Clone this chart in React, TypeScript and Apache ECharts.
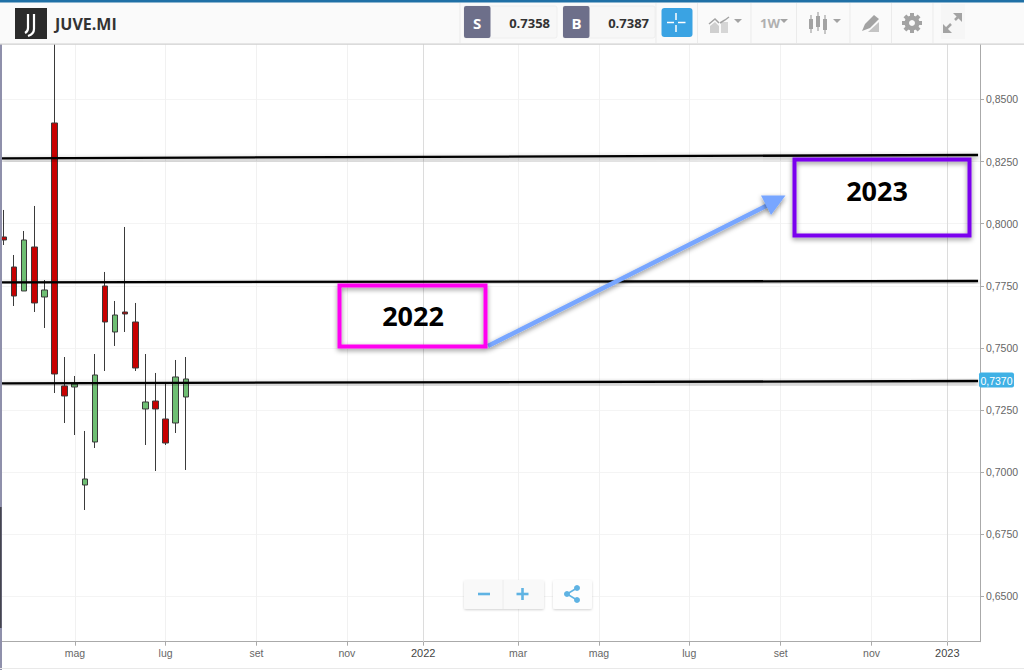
import React, { useEffect, useRef } from "react";
import * as echarts from "echarts";

const weekIndex = [0, 1, 2, 3, 4, 5, 6, 7, 8, 9, 10, 11, 12, 13, 14, 15, 16, 17, 18];
const opens = [0.79465, 0.78257, 0.77291, 0.79062, 0.77049, 0.84054, 0.73466, 0.73426, 0.6948, 0.71212, 0.77492, 0.7564, 0.76445, 0.76043, 0.7254, 0.72862, 0.72138, 0.71976, 0.73023];
const closes = [0.79344, 0.77089, 0.79344, 0.76808, 0.77331, 0.73949, 0.73064, 0.73547, 0.69722, 0.73909, 0.76043, 0.76324, 0.76365, 0.74191, 0.72822, 0.7254, 0.71171, 0.73829, 0.73748];
const lows = [0.79142, 0.76687, 0.77291, 0.76445, 0.75801, 0.73184, 0.71976, 0.71493, 0.68474, 0.7097, 0.7407, 0.75077, 0.7564, 0.7407, 0.71091, 0.70044, 0.71091, 0.71574, 0.70085];
const highs = [0.80552, 0.7874, 0.79706, 0.80713, 0.77733, 0.8723, 0.74633, 0.73869, 0.71655, 0.74754, 0.78056, 0.76888, 0.79867, 0.76808, 0.74754, 0.7399, 0.73587, 0.74513, 0.74633];

const tickPositions = [7.03, 16, 25, 33.95, 41.5, 50.9, 58.9, 67.85, 76.9, 85.9, 93.4];
const tickLabels = ["mag", "lug", "set", "nov", "2022", "mar", "mag", "lug", "set", "nov", "2023"];
const yearTicks = [41.5, 93.4];
const priceTicks = [0.65, 0.675, 0.7, 0.725, 0.75, 0.775, 0.8, 0.825, 0.85];

const levelXs = [-0.2, 96.44];
const levelA = [0.82633, 0.82766];
const levelB = [0.77641, 0.77693];
const levelC = [0.73575, 0.73667];

const ASK = "0.7358";
const BID = "0.7387";
const LAST = "0,7370";

echarts.graphic.registerShape(
  "juveLogo",
  echarts.graphic.extendPath("M28 14 L28 28 C28 31 27 32 25 33 M34 14 L34 29 C34 33 31 35 28 36", {})
);
echarts.graphic.registerShape(
  "shareIcon",
  echarts.graphic.extendPath("M577 588 L567 594 L577 600", {})
);

const FONT = "'Open Sans', sans-serif";
const AXIS_FONT = "'Liberation Sans', Arial, sans-serif";
const ICON = "#a3a3a3";
const BLUE = "#5fb3e3";

const rect = (x: number, y: number, w: number, h: number, fill: string, extra: any = {}) => ({
  type: "rect",
  z: 20,
  shape: { x, y, width: w, height: h, r: extra.r ?? 0 },
  style: { fill, stroke: extra.stroke, lineWidth: extra.lineWidth ?? 0, shadowBlur: extra.shadowBlur, shadowColor: extra.shadowColor, shadowOffsetY: extra.shadowOffsetY },
  silent: true,
});
const line = (x1: number, y1: number, x2: number, y2: number, stroke: string, lineWidth = 1, extra: any = {}) => ({
  type: "line",
  z: 21,
  shape: { x1, y1, x2, y2 },
  style: { stroke, lineWidth, ...extra },
  silent: true,
});
const text = (x: number, y: number, t: string, fill: string, font: string, align = "center") => ({
  type: "text",
  z: 22,
  x,
  y,
  style: { text: t, fill, font, textAlign: align, textVerticalAlign: "middle" },
  silent: true,
});
const tri = (x: number, y: number) => ({
  type: "polygon",
  z: 21,
  shape: { points: [[x - 4, y], [x + 4, y], [x, y + 4]] },
  style: { fill: ICON },
  silent: true,
});

const gearTeeth = [0, 1, 2, 3, 4, 5, 6, 7].map((i) => ({
  type: "rect",
  z: 21,
  x: 912,
  y: 23,
  rotation: (i * Math.PI) / 4,
  shape: { x: -2, y: -10, width: 4, height: 5 },
  style: { fill: ICON },
  silent: true,
}));

const shadow = { shadowBlur: 5, shadowColor: "rgba(0,0,0,0.45)", shadowOffsetY: 2 };

const header = [
  rect(0, 0, 1024, 44, "#fafafa"),
  rect(0, 0, 1024, 2.5, "#1f70a6"),
  rect(0, 43.5, 1024, 1.2, "#cfcfcf"),
  rect(15, 8, 32, 31, "#2b2b2b"),
  { type: "juveLogo", z: 21, style: { stroke: "#ffffff", fill: "none", lineWidth: 2.2 }, silent: true },
  text(55, 23.5, "JUVE.MI", "#333333", `700 16px ${FONT}`, "left"),
  ...[460, 656, 697.5, 751, 796.5, 850, 891.5, 933].map((x) => line(x, 3, x, 43, "#ebebeb")),
  rect(464, 6, 93, 32, "#f7f7f7", { r: 2, stroke: "#eeeeee", lineWidth: 1 }),
  rect(464, 6, 26.5, 32, "#6d6f8a", { r: 2 }),
  text(477, 23, "S", "#ffffff", `700 15px ${FONT}`),
  text(550, 23, ASK, "#333333", `700 13px ${FONT}`, "right"),
  rect(563, 6, 92, 32, "#f7f7f7", { r: 2, stroke: "#eeeeee", lineWidth: 1 }),
  rect(563, 6, 26.5, 32, "#6d6f8a", { r: 2 }),
  text(576.5, 23, "B", "#ffffff", `700 15px ${FONT}`),
  text(649, 23, BID, "#333333", `700 13px ${FONT}`, "right"),
  rect(661.5, 8, 31, 29, "#3aa3e3", { r: 3 }),
  line(667, 22.5, 674, 22.5, "#ffffff", 1.5),
  line(678, 22.5, 685.5, 22.5, "#ffffff", 1.5),
  line(676, 13, 676, 20, "#ffffff", 1.5),
  line(676, 25, 676, 32, "#ffffff", 1.5),
  { type: "polygon", z: 21, shape: { points: [[710, 33], [710, 26], [715, 22], [719, 26], [719, 33]] }, style: { fill: "#cfcfcf" }, silent: true },
  rect(721, 22, 7, 11, "#d6d6d6"),
  { type: "polyline", z: 21, shape: { points: [[709, 24], [715, 19], [719, 23]] }, style: { stroke: ICON, lineWidth: 1.5, fill: "none" }, silent: true },
  { type: "polyline", z: 21, shape: { points: [[720, 23], [725, 20], [729, 17]] }, style: { stroke: ICON, lineWidth: 1.5, fill: "none" }, silent: true },
  tri(738, 19),
  text(770, 23, "1W", "#b0b0b0", `700 13px ${FONT}`),
  tri(784, 19),
  line(811, 15, 811, 33, ICON, 1.2), rect(809, 19, 4, 10, ICON),
  line(818, 12, 818, 31, ICON, 1.2), rect(816, 16, 4, 11, ICON),
  line(825, 15, 825, 34, ICON, 1.2), rect(823, 19, 4, 11, ICON),
  tri(837, 19),
  { type: "polygon", z: 21, shape: { points: [[862, 31], [865, 24], [874, 15], [879, 19], [870, 28]] }, style: { fill: ICON }, silent: true },
  { type: "polygon", z: 21, shape: { points: [[868, 32], [879, 22], [879, 32]] }, style: { fill: "#c4c4c4" }, silent: true },
  { type: "ring", z: 21, shape: { cx: 912, cy: 23, r: 7.5, r0: 3 }, style: { fill: ICON }, silent: true },
  ...gearTeeth,
  rect(941, 4, 24, 35, "#f6f6f6"),
  line(945, 30, 951, 24, ICON, 2.5),
  line(955, 20, 960, 15, ICON, 2.5),
  { type: "polygon", z: 21, shape: { points: [[943, 24], [943, 33], [952, 33]] }, style: { fill: ICON }, silent: true },
  { type: "polygon", z: 21, shape: { points: [[953, 13], [962, 13], [962, 22]] }, style: { fill: ICON }, silent: true },
];

const controls = [
  rect(464, 580, 80, 29, "#f9f9f9", { r: 2, shadowBlur: 2, shadowColor: "rgba(0,0,0,0.18)", shadowOffsetY: 1 }),
  line(503, 580, 503, 609, "#ececec"),
  line(478, 594, 490, 594, BLUE, 2.6),
  line(516.5, 594, 528.5, 594, BLUE, 2.6),
  line(522.5, 588, 522.5, 600, BLUE, 2.6),
  rect(553, 580, 39, 29, "#fdfdfd", { r: 2, shadowBlur: 2, shadowColor: "rgba(0,0,0,0.18)", shadowOffsetY: 1 }),
  { type: "shareIcon", z: 21, style: { stroke: BLUE, fill: "none", lineWidth: 1.6 }, silent: true },
  { type: "circle", z: 21, shape: { cx: 567, cy: 594, r: 3 }, style: { fill: BLUE }, silent: true },
  { type: "circle", z: 21, shape: { cx: 577, cy: 588, r: 3 }, style: { fill: BLUE }, silent: true },
  { type: "circle", z: 21, shape: { cx: 577, cy: 600, r: 3 }, style: { fill: BLUE }, silent: true },
];

const annotations = [
  { type: "rect", z: 24, shape: { x: 339.5, y: 285.5, width: 146, height: 61 }, style: { fill: "none", stroke: "#ff00f0", lineWidth: 4, ...shadow }, silent: true },
  text(413, 315, "2022", "#000000", `700 27px ${FONT}`),
  { type: "rect", z: 24, shape: { x: 794.5, y: 159.5, width: 175, height: 76 }, style: { fill: "none", stroke: "#7a06ee", lineWidth: 4, ...shadow }, silent: true },
  text(877, 190.5, "2023", "#000000", `700 27px ${FONT}`),
  line(488, 346, 769, 204.5, "#78a6ff", 4.5, shadow),
  { type: "polygon", z: 25, shape: { points: [[785.5, 195.5], [761, 195.5], [771, 215]] }, style: { fill: "#78a6ff", ...shadow }, silent: true },
];

const priceTag = [
  rect(979, 372.5, 35, 15, "#3fb1e5", { r: 2 }),
  text(996.5, 380.5, LAST, "#ffffff", `10.5px ${AXIS_FONT}`),
];

const frame = [
  rect(0, 0, 2, 670, "#8f90ab"),
  rect(0, 507, 1.6, 121, "#45454f"),
  rect(0, 668, 1024, 1, "#e9e9e9"),
];

const levelSeries = (name: string, values: number[]) => ({
  name,
  type: "line",
  z: 10,
  symbol: "none",
  silent: true,
  data: levelXs.map((x, i) => [x, values[i]]),
  lineStyle: { color: "#000000", width: 2.3, shadowBlur: 5, shadowColor: "rgba(0,0,0,0.45)", shadowOffsetY: 2 },
});

export default function App() {
  const ref = useRef<HTMLDivElement>(null);
  useEffect(() => {
    document.body.style.margin = "0";
    document.body.style.overflow = "hidden";
    document.body.style.background = "#ffffff";
    const chart = echarts.init(ref.current!, undefined, { renderer: "svg" });
    chart.setOption({
      animation: false,
      backgroundColor: "#ffffff",
      grid: { left: 2, top: 44, width: 978, height: 597.7, containLabel: false },
      xAxis: {
        type: "value",
        min: -0.198,
        max: 96.634,
        axisLine: { show: true, onZero: false, lineStyle: { color: "#aaaaaa", width: 1 } },
        axisTick: { show: true, length: 4, lineStyle: { color: "#aaaaaa" }, customValues: tickPositions },
        axisLabel: {
          customValues: tickPositions,
          margin: 6,
          fontFamily: AXIS_FONT,
          fontSize: 10.5,
          color: "#666666",
          formatter: (v: number) => {
            const label = tickLabels[tickPositions.indexOf(v)] ?? "";
            return yearTicks.includes(v) ? `{y|${label}}` : label;
          },
          rich: { y: { color: "#444444", fontFamily: AXIS_FONT, fontSize: 11 } },
        },
        splitLine: { show: true, lineStyle: { color: "#f1f1f1", width: 1 } },
      },
      yAxis: {
        type: "value",
        position: "right",
        min: 0.63172,
        max: 0.87234,
        axisLine: { show: true, onZero: false, lineStyle: { color: "#aaaaaa", width: 1 } },
        axisTick: { show: true, length: 4, lineStyle: { color: "#aaaaaa" }, customValues: priceTicks },
        axisLabel: {
          customValues: priceTicks,
          margin: 6,
          fontFamily: AXIS_FONT,
          fontSize: 10.5,
          color: "#666666",
          formatter: (v: number) => v.toFixed(4).replace(".", ","),
        },
        splitLine: { show: true, lineStyle: { color: "#f4f4f4", width: 1 } },
      },
      series: [
        {
          type: "candlestick",
          z: 5,
          barWidth: 6,
          silent: true,
          data: weekIndex.map((x, i) => [x, opens[i], closes[i], lows[i], highs[i]]),
          itemStyle: { color: "#6fbf73", color0: "#c80000", borderColor: "#3a3a3a", borderColor0: "#3a3a3a", borderWidth: 1 },
          markLine: {
            silent: true,
            symbol: "none",
            label: { show: false },
            lineStyle: { color: "#dcdcdc", width: 1, type: "solid" },
            data: yearTicks.map((x) => ({ xAxis: x })),
          },
        },
        levelSeries("Level A", levelA),
        levelSeries("Level B", levelB),
        levelSeries("Level C", levelC),
      ],
      graphic: [...frame, ...header, ...controls, ...annotations, ...priceTag],
    });
    return () => chart.dispose();
  }, []);
  return <div ref={ref} style={{ width: 1024, height: 670 }} />;
}
